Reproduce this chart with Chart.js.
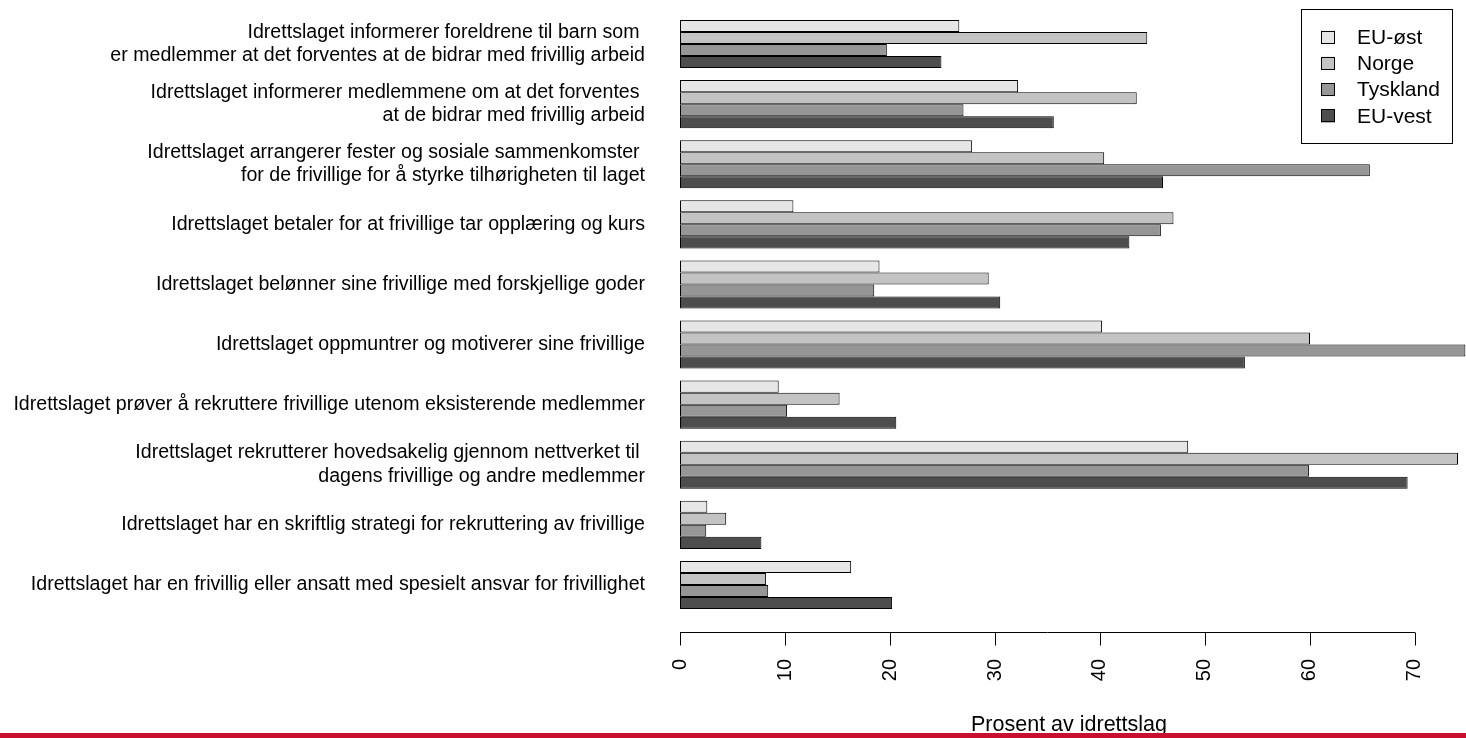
<!DOCTYPE html>
<html>
<head>
<meta charset="utf-8">
<script src="https://cdn.jsdelivr.net/npm/chart.js@4"></script>
<style>
  html, body { margin: 0; padding: 0; background: #fff; }
  canvas { display: block; }
</style>
</head>
<body>
<canvas id="chart" width="1466" height="738"></canvas>
<script>
// Data (percent of sports clubs)
const categories = [
  ['Idrettslaget informerer foreldrene til barn som ', 'er medlemmer at det forventes at de bidrar med frivillig arbeid'],
  ['Idrettslaget informerer medlemmene om at det forventes ', 'at de bidrar med frivillig arbeid'],
  ['Idrettslaget arrangerer fester og sosiale sammenkomster ', 'for de frivillige for å styrke tilhørigheten til laget'],
  'Idrettslaget betaler for at frivillige tar opplæring og kurs',
  'Idrettslaget belønner sine frivillige med forskjellige goder',
  'Idrettslaget oppmuntrer og motiverer sine frivillige',
  'Idrettslaget prøver å rekruttere frivillige utenom eksisterende medlemmer',
  ['Idrettslaget rekrutterer hovedsakelig gjennom nettverket til ', 'dagens frivillige og andre medlemmer'],
  'Idrettslaget har en skriftlig strategi for rekruttering av frivillige',
  'Idrettslaget har en frivillig eller ansatt med spesielt ansvar for frivillighet'
];
const euOst    = [26.6, 32.2, 27.8, 10.8, 19.0, 40.2,  9.4, 48.4, 2.6, 16.3];
const norge    = [44.5, 43.5, 40.4, 47.0, 29.4, 60.0, 15.2, 74.1, 4.4,  8.2];
const tyskland = [19.7, 27.0, 65.7, 45.8, 18.5, 74.8, 10.2, 59.9, 2.5,  8.4];
const euVest   = [24.9, 35.6, 46.0, 42.8, 30.5, 53.8, 20.6, 69.3, 7.75, 20.2];
const seriesNames = ['EU-øst', 'Norge', 'Tyskland', 'EU-vest'];
const seriesColors = ['#E6E6E6', '#C3C3C3', '#969696', '#4D4D4D'];
const xTicks = [0, 10, 20, 30, 40, 50, 60, 70];
const xMax = 74.86;
const xTitle = 'Prosent av idrettslag';

const FONT = '"Liberation Sans", Arial, Helvetica, sans-serif';

// R-style axis, title, boxed legend and the red rule at the bottom
const extras = {
  id: 'extras',
  afterDraw(chart) {
    const ctx = chart.ctx;
    const x = chart.scales.x;
    const area = chart.chartArea;
    ctx.save();

    // x axis line with ticks
    const axisY = 632.5;
    ctx.strokeStyle = '#000';
    ctx.lineWidth = 1;
    ctx.beginPath();
    ctx.moveTo(x.getPixelForValue(xTicks[0]), axisY);
    ctx.lineTo(x.getPixelForValue(xTicks[xTicks.length - 1]), axisY);
    xTicks.forEach(v => {
      const px = Math.round(x.getPixelForValue(v)) + 0.5;
      ctx.moveTo(px, axisY);
      ctx.lineTo(px, axisY + 13);
    });
    ctx.stroke();

    // axis title
    ctx.fillStyle = '#000';
    ctx.font = '21.5px ' + FONT;
    ctx.textAlign = 'center';
    ctx.textBaseline = 'alphabetic';
    ctx.fillText(xTitle, (area.left + area.right) / 2 - 4, 731);

    // legend box
    ctx.font = '21px ' + FONT;
    ctx.strokeStyle = '#000';
    ctx.strokeRect(1301.5, 9.5, 151, 134);
    ctx.textAlign = 'left';
    ctx.textBaseline = 'middle';
    chart.data.datasets.forEach((ds, i) => {
      const cy = 37 + i * 26.3;
      ctx.fillStyle = ds.backgroundColor;
      ctx.fillRect(1321, cy - 6.5, 14, 13);
      ctx.strokeStyle = '#000';
      ctx.strokeRect(1321.5, Math.round(cy - 6.5) + 0.5, 13, 12);
      ctx.fillStyle = '#000';
      ctx.fillText(ds.label, 1357, cy + 1);
    });

    // red rule
    ctx.fillStyle = '#C8102E';
    ctx.fillRect(0, 733, chart.width, 5);
    ctx.restore();
  }
};

const seriesData = [euOst, norge, tyskland, euVest];

new Chart(document.getElementById('chart').getContext('2d'), {
  type: 'bar',
  data: {
    labels: categories,
    datasets: seriesData.map((d, i) => ({
      label: seriesNames[i],
      data: d,
      backgroundColor: seriesColors[i],
      borderColor: '#000',
      borderWidth: 1,
      borderSkipped: false,
      categoryPercentage: 0.8,
      barPercentage: 1.0
    }))
  },
  options: {
    responsive: false,
    animation: false,
    indexAxis: 'y',
    layout: { padding: { top: 14, left: 0, right: 0, bottom: 0 } },
    plugins: { legend: { display: false }, tooltip: { enabled: false } },
    scales: {
      y: {
        grid: { display: false, drawTicks: false },
        border: { display: false },
        ticks: { padding: 35, color: '#000', autoSkip: false, font: { size: 19.6, family: FONT } },
        afterFit: s => { s.width = 680; s.paddingTop = 0; s.paddingBottom = 0; }
      },
      x: {
        min: 0,
        max: xMax,
        grid: { display: false, drawTicks: false },
        border: { display: false },
        afterBuildTicks: s => { s.ticks = xTicks.map(v => ({ value: v })); },
        ticks: { minRotation: 90, maxRotation: 90, autoSkip: false, padding: 44, color: '#000', font: { size: 20, family: FONT } },
        afterFit: s => { s.height = 123; s.paddingLeft = 0; s.paddingRight = 0; }
      }
    }
  },
  plugins: [extras]
});
</script>
</body>
</html>
